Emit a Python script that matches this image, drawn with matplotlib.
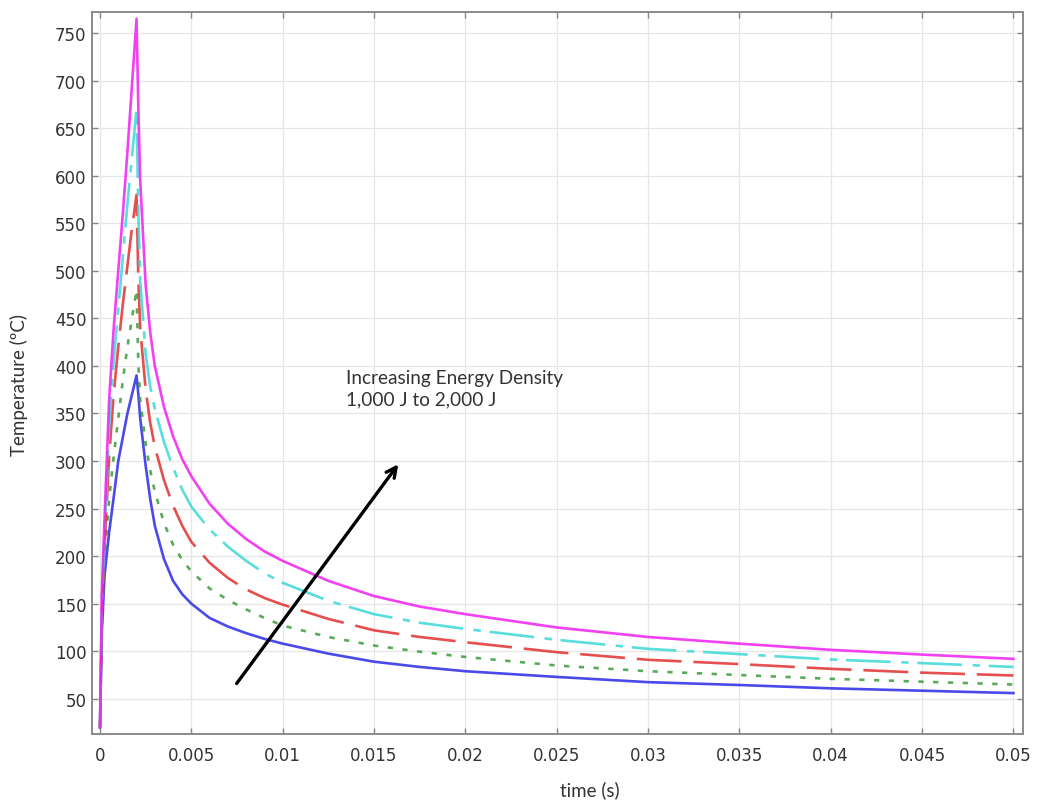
import matplotlib.pyplot as plt

# time samples (s)
time_s = [0, 0.0001, 0.00025, 0.0005, 0.00075, 0.001, 0.00125, 0.0015, 0.00175, 0.002,
          0.0021, 0.0022, 0.0025, 0.00275, 0.003, 0.0035, 0.004, 0.0045, 0.005,
          0.006, 0.007, 0.008, 0.009, 0.01, 0.0125, 0.015, 0.0175, 0.02,
          0.025, 0.03, 0.035, 0.04, 0.045, 0.05]

# temperature (deg C) for each energy level
temp_1000 = [20, 120, 180, 225, 262, 300, 325, 350, 370, 390,
             370, 345, 295, 260, 232, 197, 174, 160, 150,
             135, 126, 119, 113, 108, 97.5, 89, 83.5, 79,
             73, 67.5, 64.5, 61, 58.5, 56]
temp_1250 = [20, 130, 195, 260, 305, 345, 385, 420, 450, 480,
             400, 365, 318, 290, 268, 235, 212, 196, 184,
             166, 154, 144, 135, 127, 115, 106, 99.5, 94,
             85, 79, 75, 71, 68, 65]
temp_1500 = [20, 140, 210, 305, 370, 420, 465, 505, 545, 580,
             490, 440, 375, 340, 315, 280, 253, 232, 215,
             193, 177, 165, 156, 149, 134, 122, 115, 109.5,
             99, 91, 86.5, 81.5, 77.5, 74.5]
temp_1750 = [20, 150, 225, 335, 405, 460, 515, 570, 620, 670,
             560, 490, 412, 378, 355, 320, 293, 270, 252,
             228, 210, 195, 182, 172, 153, 139, 130, 123.5,
             112, 102.5, 97, 91.3, 87.5, 83.5]
temp_2000 = [20, 160, 240, 365, 440, 500, 560, 625, 695, 765,
             670, 595, 485, 435, 400, 357, 326, 302, 284,
             255, 234, 218, 205, 195, 174, 158, 147, 139,
             125, 115, 108, 101.5, 96.5, 92]

x_ticks = [0, 0.005, 0.01, 0.015, 0.02, 0.025, 0.03, 0.035, 0.04, 0.045, 0.05]
x_labels = ['0', '0.005', '0.01', '0.015', '0.02', '0.025', '0.03', '0.035', '0.04', '0.045', '0.05']
y_ticks = list(range(50, 751, 50))

fig = plt.figure(figsize=(10.38, 8.03), dpi=100)
ax = fig.add_axes([0.0886, 0.0847, 0.897, 0.899])

lw = 1.9
ax.plot(time_s, temp_1000, color='#2a2ae8', lw=lw, alpha=0.85)
ax.plot(time_s, temp_1250, color='#3c9c3c', lw=lw, alpha=0.85, dashes=(2.0, 3.6))
ax.plot(time_s, temp_1500, color='#e23030', lw=lw, alpha=0.85, dashes=(17, 4.5))
ax.plot(time_s, temp_1750, color='#3cd8d8', lw=lw, alpha=0.85, dashes=(17, 4, 2.8, 3.3))
ax.plot(time_s, temp_2000, color='#f020f0', lw=lw, alpha=0.85)

ax.set_xlim(-0.00044, 0.05053)
ax.set_ylim(13, 772)
ax.set_xticks(x_ticks)
ax.set_xticklabels(x_labels)
ax.set_yticks(y_ticks)
ax.grid(True, color='#e6e6e6', lw=0.9)
ax.set_axisbelow(True)

ax.tick_params(direction='in', length=4, width=1, color='#888888',
               labelsize=12, labelcolor='#333333', top=True, right=True)
ax.tick_params(axis='x', pad=9)
ax.tick_params(axis='y', pad=4)
for s in ax.spines.values():
    s.set_color('#8a8a8a')
    s.set_linewidth(1.4)

ax.set_xlabel('time (s)', family='Lato', fontsize=13.5, color='#333333')
ax.set_ylabel('Temperature (ºC)', family='Lato', fontsize=13.5, color='#333333')
ax.xaxis.set_label_coords(0.535, -0.064)
ax.yaxis.set_label_coords(-0.069, 0.485)

ax.annotate('', xy=(0.01642, 299), xytext=(0.00739, 63.7),
            arrowprops=dict(arrowstyle='->', color='black', lw=2.4, mutation_scale=18))
ax.text(0.01347, 397, 'Increasing Energy Density\n1,000 J to 2,000 J',
        family='Lato', fontsize=13.7, color='#333333', ha='left', va='top', linespacing=1.3)

fig.savefig('out.png', dpi=100)
